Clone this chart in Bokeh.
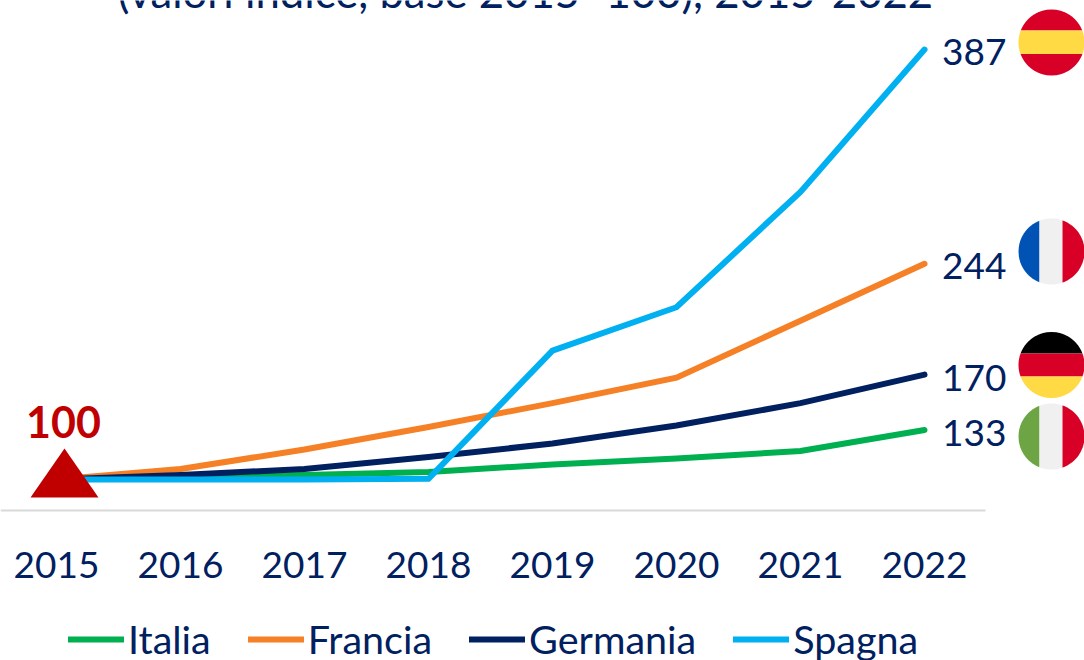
import numpy as np
from bokeh.plotting import figure
from bokeh.models import FixedTicker, Legend, LegendItem, Range1d
from bokeh.core.properties import value
from bokeh.embed import file_html
from bokeh.resources import INLINE

years = [2015, 2016, 2017, 2018, 2019, 2020, 2021, 2022]
italia = [100, 102, 103, 105, 110, 114, 119, 133]
francia = [100, 107, 120, 135, 151, 168, 206, 244]
germania = [100, 103, 107, 115, 124, 136, 151, 170]
spagna = [100, 100, 100, 100.5, 186, 215, 292, 387]
series_names = ["Italia", "Francia", "Germania", "Spagna"]
series_colors = ["#00B050", "#F58025", "#002060", "#00B0F0"]
end_labels = ["133", "244", "170", "387"]
title_text = "(valori indice, base 2015=100), 2015-2022"

W, H = 1084, 660
FONT = "Lato"
NAVY = "#002060"


def dx(px):
    return 2015 + (px - 56) / 124


def dy(py):
    return 100 + (479 - py) / 1.498


p = figure(width=W, height=H, output_backend="svg", toolbar_location=None,
           x_range=Range1d(dx(0), dx(W)), y_range=Range1d(dy(H), dy(0)),
           min_border=0, outline_line_color=None, margin=0)
p.ygrid.visible = False
p.xgrid.visible = False
p.yaxis.visible = False

ax = p.xaxis[0]
ax.fixed_location = dy(510)
ax.bounds = (dx(0), dx(985))
ax.ticker = FixedTicker(ticks=years)
ax.major_label_overrides = {y: str(y) for y in years}
ax.major_tick_line_color = None
ax.minor_tick_line_color = None
ax.axis_line_color = "#D9D9D9"
ax.axis_line_width = 2
ax.major_label_standoff = 35
ax.major_label_text_font = FONT
ax.major_label_text_font_size = "37px"
ax.major_label_text_color = NAVY

items = []
for name, vals, col in zip(series_names, [italia, francia, germania, spagna], series_colors):
    r = p.line(years, vals, line_color=col, line_width=6, line_join="miter", line_cap="round")
    items.append(LegendItem(label=name, renderers=[r]))

# Base-year marker
tx = [dx(30), dx(98), dx(64)]
ty = [dy(497), dy(497), dy(448)]
p.patch(tx, ty, fill_color="#C00000", line_color=None)
p.text([dx(63)], [dy(421)], text=["100"], text_font=value(FONT), text_font_style="bold",
       text_font_size="43px", text_color="#C00000", text_align="center", text_baseline="middle")

# End labels
label_py = [432, 265, 377, 51]
p.text([dx(941.5)] * 4, [dy(v) for v in label_py], text=end_labels, text_font=value(FONT),
       text_font_size="37px", text_color=NAVY, text_align="left", text_baseline="middle")

# Title, cut by the top edge as in the reference
p.text([dx(525)], [dy(-10)], text=[title_text], text_font=value(FONT), text_font_size="43.7px",
       text_color=NAVY, text_align="center", text_baseline="alphabetic")

# Round flags
RED, YEL, BLU, WHT, GRN, BLK = "#D80027", "#FFDA44", "#0052B4", "#F0F0F0", "#6DA544", "#000000"
FX, R = 1051, 33


def segment(cx, cy, a, b, horizontal):
    """Part of the disc between offsets a and b along the stripe axis."""
    t = np.linspace(a, b, 60)
    w = np.sqrt(np.clip(R ** 2 - t ** 2, 0, None))
    u = np.concatenate([t, t[::-1]])
    v = np.concatenate([w, -w[::-1]])
    if horizontal:
        return dx(cx + v), dy(cy + u)
    return dx(cx + u), dy(cy + v)


flags = [
    (42, True, [RED, YEL, RED], (-12, 11.5)),
    (251, False, [BLU, WHT, RED], (-12, 11)),
    (364.5, True, [BLK, RED, YEL], (-11.5, 11.5)),
    (436, False, [GRN, WHT, RED], (-12, 11)),
]
for cy, horiz, cols, (a, b) in flags:
    for col, (s, e) in zip(cols, [(-R, a), (a, b), (b, R)]):
        xs, ys = segment(FX, cy, s, e, horiz)
        p.patch(xs, ys, fill_color=col, line_color=None)

legend = Legend(items=items, orientation="horizontal", location=(68, -2),
                padding=0, margin=0, spacing=37, label_standoff=4,
                glyph_width=56, glyph_height=20, background_fill_alpha=0,
                border_line_color=None, label_text_font=FONT,
                label_text_font_size="39.5px", label_text_color=NAVY,
                label_height=38)
p.add_layout(legend, "center")

open("out.html", "w").write(file_html(p, INLINE))
